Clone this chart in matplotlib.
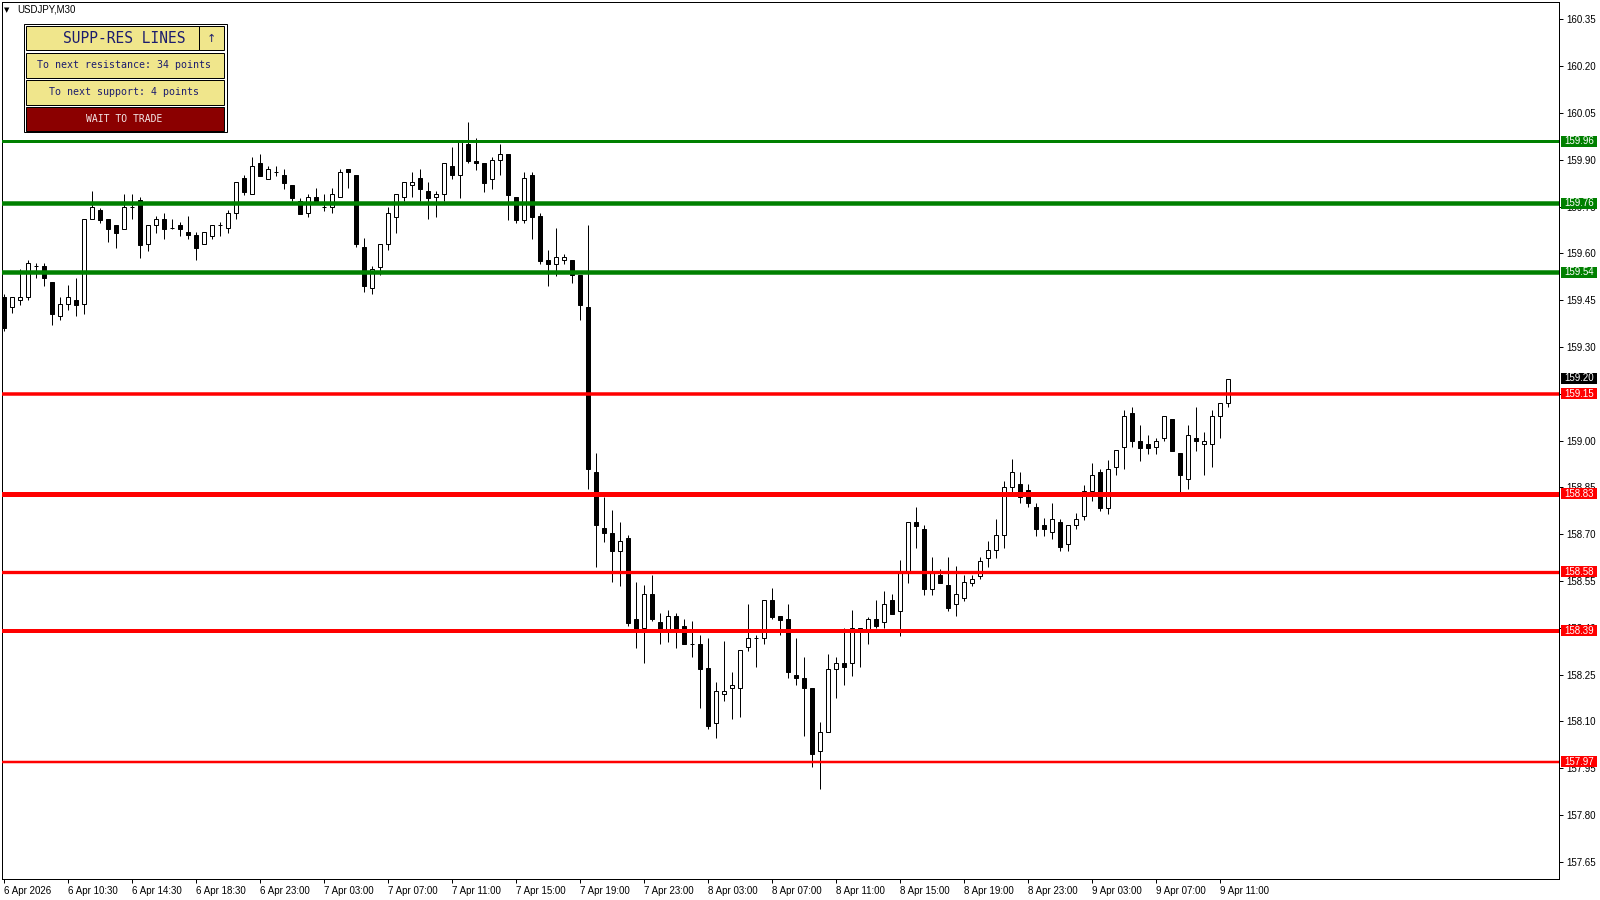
import matplotlib
matplotlib.use('Agg')
import matplotlib.pyplot as plt
import matplotlib.transforms as mtransforms
from matplotlib.patches import Rectangle
import numpy as np

# chart data (USDJPY M30, one bar per 30 min)
symbol = "USDJPY,M30"
opens = [159.46, 159.428, 159.449, 159.46, 159.558, 159.558, 159.507, 159.40, 159.436, 159.45,
         159.436, 159.709, 159.739, 159.709, 159.69, 159.679, 159.747, 159.77, 159.63, 159.69,
         159.709, 159.68, 159.69, 159.668, 159.658, 159.629, 159.657, 159.69, 159.68, 159.728,
         159.84, 159.789, 159.889, 159.839, 159.86, 159.85, 159.818, 159.769, 159.728, 159.779,
         159.75, 159.75, 159.779, 159.869, 159.85, 159.619, 159.488, 159.557, 159.629, 159.717,
         159.779, 159.818, 159.84, 159.799, 159.779, 159.789, 159.879, 159.85, 159.95, 159.897,
         159.889, 159.839, 159.898, 159.918, 159.779, 159.708, 159.85, 159.72, 159.579, 159.567,
         159.578, 159.578, 159.53, 159.427, 158.898, 158.719, 158.705, 158.647, 158.687, 158.427,
         158.40, 158.507, 158.418, 158.393, 158.437, 158.407, 158.347, 158.347, 158.27, 158.096,
         158.186, 158.206, 158.206, 158.337, 158.366, 158.366, 158.488, 158.437, 158.427, 158.247,
         158.238, 158.206, 158.006, 158.065, 158.267, 158.286, 158.286, 158.398, 158.39, 158.427,
         158.417, 158.488, 158.455, 158.574, 158.738, 158.718, 158.525, 158.569, 158.537, 158.475,
         158.496, 158.544, 158.567, 158.625, 158.648, 158.696, 158.85, 158.86, 158.84, 158.786,
         158.73, 158.706, 158.738, 158.667, 158.728, 158.757, 158.837, 158.898, 158.785, 158.916,
         158.978, 159.087, 158.998, 158.988, 158.978, 159.007, 159.068, 158.959, 158.876, 159.007,
         158.988, 158.988, 159.078, 159.119]
highs = [159.47, 159.46, 159.55, 159.58, 159.568, 159.568, 159.507, 159.46, 159.497, 159.52,
         159.709, 159.80, 159.745, 159.709, 159.69, 159.79, 159.79, 159.78, 159.69, 159.719,
         159.729, 159.709, 159.70, 159.719, 159.668, 159.667, 159.69, 159.70, 159.739, 159.828,
         159.851, 159.909, 159.918, 159.88, 159.88, 159.869, 159.818, 159.778, 159.789, 159.808,
         159.79, 159.808, 159.869, 159.869, 159.85, 159.649, 159.56, 159.629, 159.75, 159.789,
         159.828, 159.861, 159.869, 159.829, 159.799, 159.889, 159.94, 159.96, 160.02, 159.97,
         159.889, 159.909, 159.95, 159.918, 159.779, 159.861, 159.861, 159.728, 159.611, 159.681,
         159.598, 159.578, 159.53, 159.691, 158.959, 158.82, 158.777, 158.739, 158.697, 158.546,
         158.537, 158.569, 158.446, 158.457, 158.446, 158.427, 158.42, 158.377, 158.366, 158.226,
         158.357, 158.257, 158.328, 158.476, 158.377, 158.488, 158.527, 158.437, 158.476, 158.366,
         158.306, 158.206, 158.097, 158.315, 158.305, 158.398, 158.457, 158.398, 158.435, 158.488,
         158.518, 158.508, 158.617, 158.738, 158.787, 158.73, 158.627, 158.587, 158.627, 158.598,
         158.569, 158.569, 158.626, 158.678, 158.748, 158.87, 158.94, 158.90, 158.86, 158.80,
         158.751, 158.799, 158.747, 158.728, 158.767, 158.856, 158.927, 158.908, 158.938, 158.969,
         159.098, 159.107, 159.05, 159.018, 159.008, 159.078, 159.068, 158.959, 159.05, 159.107,
         159.027, 159.098, 159.119, 159.196]
lows = [159.35, 159.41, 159.435, 159.45, 159.52, 159.496, 159.369, 159.387, 159.417, 159.398,
        159.406, 159.709, 159.698, 159.637, 159.618, 159.679, 159.709, 159.586, 159.608, 159.666,
        159.647, 159.679, 159.657, 159.647, 159.579, 159.629, 159.647, 159.657, 159.666, 159.709,
        159.787, 159.789, 159.849, 159.839, 159.849, 159.807, 159.769, 159.727, 159.717, 159.76,
        159.737, 159.728, 159.779, 159.808, 159.619, 159.477, 159.469, 159.53, 159.611, 159.666,
        159.769, 159.779, 159.769, 159.709, 159.717, 159.769, 159.839, 159.778, 159.889, 159.868,
        159.798, 159.807, 159.85, 159.708, 159.698, 159.698, 159.647, 159.565, 159.496, 159.528,
        159.567, 159.506, 159.386, 158.846, 158.596, 158.676, 158.545, 158.535, 158.406, 158.336,
        158.286, 158.42, 158.347, 158.355, 158.336, 158.347, 158.305, 158.144, 158.076, 158.045,
        158.166, 158.106, 158.115, 158.325, 158.275, 158.347, 158.427, 158.377, 158.238, 158.215,
        158.054, 157.955, 157.884, 158.065, 158.176, 158.215, 158.246, 158.275, 158.347, 158.398,
        158.40, 158.445, 158.375, 158.544, 158.657, 158.506, 158.506, 158.544, 158.455, 158.436,
        158.487, 158.534, 158.557, 158.596, 158.625, 158.657, 158.83, 158.799, 158.786, 158.695,
        158.695, 158.685, 158.647, 158.647, 158.716, 158.745, 158.807, 158.775, 158.766, 158.889,
        158.908, 158.978, 158.935, 158.957, 158.957, 158.998, 158.967, 158.835, 158.846, 158.967,
        158.888, 158.916, 159.007, 159.107]
closes = [159.36, 159.459, 159.459, 159.57, 159.558, 159.52, 159.406, 159.436, 159.459, 159.435,
          159.709, 159.747, 159.707, 159.679, 159.666, 159.747, 159.747, 159.628, 159.69, 159.709,
          159.679, 159.68, 159.679, 159.658, 159.618, 159.667, 159.69, 159.69, 159.728, 159.828,
          159.798, 159.879, 159.849, 159.869, 159.86, 159.826, 159.778, 159.727, 159.779, 159.769,
          159.747, 159.789, 159.861, 159.861, 159.629, 159.496, 159.549, 159.629, 159.728, 159.789,
          159.828, 159.828, 159.807, 159.778, 159.789, 159.889, 159.85, 159.957, 159.897, 159.889,
          159.826, 159.898, 159.918, 159.788, 159.708, 159.84, 159.717, 159.576, 159.567, 159.587,
          159.587, 159.53, 159.434, 158.908, 158.728, 158.705, 158.647, 158.678, 158.416, 158.397,
          158.507, 158.427, 158.393, 158.437, 158.397, 158.347, 158.347, 158.267, 158.086, 158.196,
          158.196, 158.215, 158.328, 158.366, 158.366, 158.488, 158.435, 158.425, 158.257, 158.238,
          158.206, 157.996, 158.065, 158.267, 158.286, 158.275, 158.398, 158.39, 158.427, 158.407,
          158.475, 158.445, 158.574, 158.738, 158.727, 158.525, 158.574, 158.544, 158.464, 158.507,
          158.546, 158.557, 158.615, 158.648, 158.696, 158.85, 158.90, 158.818, 158.80, 158.718,
          158.717, 158.747, 158.658, 158.728, 158.747, 158.837, 158.889, 158.785, 158.908, 158.969,
          159.078, 158.998, 158.977, 158.977, 158.998, 159.078, 158.967, 158.889, 159.017, 158.998,
          158.998, 159.078, 159.119, 159.196]

time_labels = ["6 Apr 2026", "6 Apr 10:30", "6 Apr 14:30", "6 Apr 18:30", "6 Apr 23:00",
               "7 Apr 03:00", "7 Apr 07:00", "7 Apr 11:00", "7 Apr 15:00", "7 Apr 19:00",
               "7 Apr 23:00", "8 Apr 03:00", "8 Apr 07:00", "8 Apr 11:00", "8 Apr 15:00",
               "8 Apr 19:00", "8 Apr 23:00", "9 Apr 03:00", "9 Apr 07:00", "9 Apr 11:00"]

# support / resistance levels drawn by the indicator
resistance_levels = [159.96, 159.76, 159.54]
support_levels = [159.15, 158.83, 158.58, 158.39, 157.97]
current_price = 159.20

panel_title = "SUPP-RES LINES"
panel_rows = ["To next resistance: 34 points", "To next support: 4 points"]
panel_status = "WAIT TO TRADE"

# styles
PX = 0.72  # points per pixel at dpi 100
resistance_widths = [3, 4.5, 4.5]
support_widths = [3.5, 5, 3.3, 4, 2.5]
FONT = ['Liberation Sans', 'DejaVu Sans']


def draw_candles(ax):
    x = np.arange(len(opens))
    o = np.array(opens)
    c = np.array(closes)
    ax.vlines(x, lows, highs, color='black', lw=PX, zorder=2)
    bull = c >= o
    fills = ['white' if b else 'black' for b in bull]
    ax.bar(x, np.abs(c - o), bottom=np.minimum(o, c), width=0.5,
           color=fills, edgecolor='black', linewidth=PX, zorder=3)


def price_box(ax, price, color, box_h):
    trans = mtransforms.blended_transform_factory(ax.transAxes, ax.transData)
    ax.add_patch(Rectangle((1.0013, price - box_h / 2), 0.0231, box_h, transform=trans,
                           facecolor=color, edgecolor='none', clip_on=False, zorder=6))
    ax.text(1.0128, price, f"{price:.2f}", transform=trans, color='white', fontsize=7,
            family=FONT, ha='center', va='center', clip_on=False, zorder=7)


def draw_panel(ov):
    ov.add_patch(Rectangle((23.5, 23.5), 203, 108.5, facecolor='white', edgecolor='black', lw=PX))
    ov.add_patch(Rectangle((26, 26), 173, 24, facecolor='#F0E68C', edgecolor='black', lw=PX))
    ov.add_patch(Rectangle((199, 26), 25, 24, facecolor='#F0E68C', edgecolor='black', lw=PX))
    ov.add_patch(Rectangle((26, 52.5), 198, 25, facecolor='#F0E68C', edgecolor='black', lw=PX))
    ov.add_patch(Rectangle((26, 79.5), 198, 25, facecolor='#F0E68C', edgecolor='black', lw=PX))
    ov.add_patch(Rectangle((26, 106.5), 198, 24.5, facecolor='#8B0000', edgecolor='black', lw=PX))
    navy = '#1c1c6e'
    ov.text(124, 38.5, panel_title, fontsize=10.5, family='DejaVu Sans Mono', color=navy,
            ha='center', va='center')
    ov.text(211.5, 38.5, '\u2191', fontsize=8, family='DejaVu Sans', color=navy,
            ha='center', va='center')
    ov.text(124, 65, panel_rows[0], fontsize=7.2, family='DejaVu Sans Mono', color=navy,
            ha='center', va='center')
    ov.text(124, 92, panel_rows[1], fontsize=7.2, family='DejaVu Sans Mono', color=navy,
            ha='center', va='center')
    ov.text(124, 119, panel_status, fontsize=7, family='DejaVu Sans Mono', color='#f4e8e8',
            ha='center', va='center')


def main():
    fig = plt.figure(figsize=(16, 9), dpi=100)
    ax = fig.add_axes([2 / 1600, 21 / 900, 1557 / 1600, 877 / 900])

    draw_candles(ax)
    for p, w in zip(resistance_levels, resistance_widths):
        ax.axhline(p, color='#008000', lw=w * PX, zorder=4)
    for p, w in zip(support_levels, support_widths):
        ax.axhline(p, color='#FF0000', lw=w * PX, zorder=4)

    # 8 px per bar, 312 px per yen
    ax.set_xlim((2 - 4.1) / 8, (1559 - 4.1) / 8)
    ax.set_ylim(159.96 - (879 - 141) / 312, 159.96 + (141 - 2) / 312)

    ax.set_xticks(np.arange(0, len(opens), 8))
    ax.set_xticklabels(time_labels, ha='left')
    yt = np.round(np.arange(157.65, 160.36, 0.15), 2)
    ax.yaxis.tick_right()
    ax.set_yticks(yt)
    ax.set_yticklabels([f"{v:.2f}" for v in yt])
    ax.tick_params(axis='both', direction='out', length=3, width=PX, labelsize=7, pad=2)
    for lab in ax.get_xticklabels() + ax.get_yticklabels():
        lab.set_family(FONT)
    for sp in ax.spines.values():
        sp.set_linewidth(PX)

    box_h = 11 / 312
    for p in resistance_levels:
        price_box(ax, p, '#008000', box_h)
    for p in support_levels:
        price_box(ax, p, '#FF0000', box_h)
    price_box(ax, current_price, 'black', box_h)

    # overlay in pixel units for the title and the info panel
    ov = fig.add_axes([0, 0, 1, 1])
    ov.set_xlim(0, 1600)
    ov.set_ylim(900, 0)
    ov.axis('off')
    ov.text(7, 10, '\u25bc', fontsize=5, family='DejaVu Sans', ha='center', va='center')
    ov.text(17, 10, symbol, fontsize=7, family=FONT, ha='left', va='center')
    draw_panel(ov)

    fig.savefig('out.png', dpi=100)


main()
